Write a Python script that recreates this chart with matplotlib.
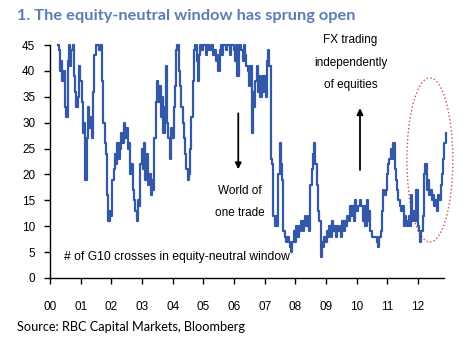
import numpy as np
import matplotlib.pyplot as plt
from matplotlib.patches import Ellipse

# Number of G10 crosses (out of 45) in the equity-neutral window,
# read off the chart about twice a month, starting spring 2000
start_year = 2000.26
step = 1 / 24
crosses = [
    45, 44, 40, 42, 38, 40, 33, 31, 42, 45, 41, 44,
    45, 39, 36, 33, 35, 41, 38, 34, 28, 30, 19, 27,
    33, 29, 31, 27, 36, 43, 45, 45, 45, 44, 45, 38,
    30, 26, 24, 16, 11, 13, 12, 19, 21, 24, 22, 26,
    23, 25, 28, 26, 30, 27, 29, 25, 26, 20, 22, 17,
    15, 13, 11, 15, 14, 22, 25, 21, 26, 19, 24, 18,
    20, 16, 19, 17, 27, 34, 38, 34, 37, 31, 35, 28,
    33, 41, 30, 27, 23, 29, 27, 33, 37, 44, 45, 40,
    37, 33, 30, 27, 24, 21, 19, 20, 25, 31, 38, 44,
    45, 42, 38, 43, 45, 44, 45, 45, 43, 45, 45, 44,
    45, 45, 43, 44, 42, 43, 40, 44, 45, 43, 45, 45,
    44, 45, 45, 43, 45, 45, 44, 42, 45, 39, 45, 45,
    44, 42, 45, 43, 41, 40,
    37, 41, 28, 36, 33, 38, 41, 36, 39, 35, 39, 36,
    39, 35, 42, 44, 41, 23, 22, 12, 10, 12, 10, 20,
    26, 22, 19, 9, 8, 7, 8, 7, 6, 5, 7, 9,
    7, 10, 8, 10, 9, 11, 9, 11, 12, 10, 12, 9,
    18, 21, 24, 26, 22, 18, 13, 11, 4, 7, 6, 8,
    7, 9, 8, 10, 8, 11, 9, 10, 8, 10, 9, 10,
    8, 11, 9, 11, 10, 12, 11,
    14, 12, 14, 11, 15, 13, 14, 14, 15, 14, 11, 14,
    10, 15, 11, 13, 9, 8, 8, 8, 8, 7, 6, 8,
    9, 13, 17, 16, 17, 20, 22, 23, 25, 23, 26, 21,
    19, 17, 15, 14, 13, 14, 10, 12, 11, 10, 12, 10,
    16, 11, 13, 11, 17, 10, 9, 7, 9, 12, 20, 22,
    17, 19, 16, 17, 15, 16, 14, 15, 13, 16, 15, 18,
    20, 23, 26, 28,
]
years = start_year + np.arange(len(crosses)) * step

year_ticks = list(range(2000, 2013))
year_labels = ['00', '01', '02', '03', '04', '05', '06',
               '07', '08', '09', '10', '11', '12']
value_ticks = [0, 5, 10, 15, 20, 25, 30, 35, 40, 45]

line_color = '#3358a8'
title_color = '#5b7cb6'
text_font = 'Liberation Sans'

fig = plt.figure(figsize=(4.71, 3.40), dpi=100)
ax = fig.add_axes([50 / 471, 62 / 340, 394 / 471, 233 / 340])

ax.plot(years, crosses, color=line_color, lw=1.6,
        drawstyle='steps-mid', clip_on=False)

ax.set_xlim(2000, 2012.85)
ax.set_ylim(0, 45)
ax.set_xticks(year_ticks)
ax.set_xticklabels(year_labels, family=text_font)
ax.set_yticks(value_ticks)
ax.set_yticklabels([str(v) for v in value_ticks], family=text_font)

for side in ['top', 'right']:
    ax.spines[side].set_visible(False)
for side in ['left', 'bottom']:
    ax.spines[side].set_linewidth(1.0)

ax.tick_params(axis='both', direction='out', length=4.5, width=1.0,
               labelsize=8.5)
ax.tick_params(axis='y', pad=6)
ax.tick_params(axis='x', pad=12)

# Annotations
ax.text(2009.8, 45.9, 'FX trading', ha='center', va='center',
        fontsize=8.5, family=text_font, clip_on=False)
ax.text(2009.8, 41.5, 'independently', ha='center', va='center',
        fontsize=8.5, family=text_font)
ax.text(2009.8, 37.3, 'of equities', ha='center', va='center',
        fontsize=8.5, family=text_font)
ax.text(2006.2, 16.85, 'World of', ha='center', va='center',
        fontsize=8.5, family=text_font)
ax.text(2006.2, 12.5, 'one trade', ha='center', va='center',
        fontsize=8.5, family=text_font)
ax.text(2000.46, 4.0, '# of G10 crosses in equity-neutral window',
        ha='left', va='center', fontsize=8.7, family=text_font)

arrow = dict(arrowstyle='-|>', color='black', lw=1.3, mutation_scale=9,
             shrinkA=0, shrinkB=0)
ax.annotate('', xy=(2006.14, 21.0), xytext=(2006.14, 31.8), arrowprops=arrow)
ax.annotate('', xy=(2010.11, 32.8), xytext=(2010.11, 20.85), arrowprops=arrow)

ax.add_patch(Ellipse((2012.39, 22.8), width=1.5, height=31.7, fill=False,
                     edgecolor='#c8504b', linestyle=':', lw=1.0,
                     clip_on=False))

fig.text(17 / 471, 1 - 20 / 340, '1. The equity-neutral window has sprung open',
         fontsize=11.8, fontweight='bold', color=title_color, family='Lato',
         va='baseline')
fig.text(17 / 471, 1 - 331 / 340, 'Source: RBC Capital Markets, Bloomberg',
         fontsize=9.2, family='Lato', va='baseline')

plt.savefig('out.png', dpi=100)
